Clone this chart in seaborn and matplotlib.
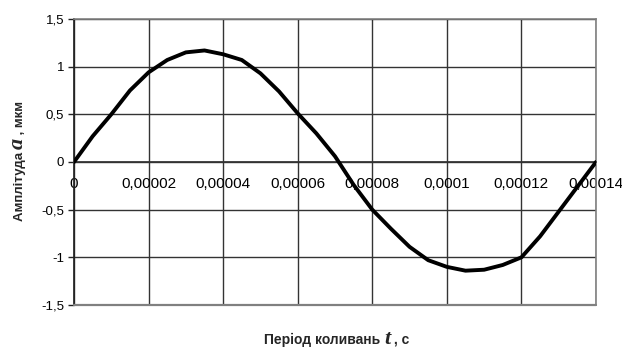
import matplotlib
matplotlib.use("Agg")
import matplotlib.pyplot as plt
import seaborn as sns
import pandas as pd

# Sampled oscillation: time (s) and amplitude (um)
time_s = [0, 0.000005, 0.00001, 0.000015, 0.00002, 0.000025, 0.00003, 0.000035,
          0.00004, 0.000045, 0.00005, 0.000055, 0.00006, 0.000065, 0.00007,
          0.000075, 0.00008, 0.000085, 0.00009, 0.000095, 0.0001, 0.000105,
          0.00011, 0.000115, 0.00012, 0.000125, 0.00013, 0.000135, 0.00014]
amplitude_um = [0, 0.27, 0.50, 0.75, 0.94, 1.07, 1.15, 1.17,
                1.13, 1.07, 0.93, 0.74, 0.51, 0.30, 0.06,
                -0.24, -0.50, -0.70, -0.89, -1.03, -1.10, -1.14,
                -1.13, -1.08, -1.00, -0.78, -0.52, -0.26, 0]

x_ticks = [0, 0.00002, 0.00004, 0.00006, 0.00008, 0.0001, 0.00012, 0.00014]
x_tick_labels = ["0", "0,00002", "0,00004", "0,00006", "0,00008", "0,0001", "0,00012", "0,00014"]
y_ticks = [-1.5, -1, -0.5, 0, 0.5, 1, 1.5]
y_tick_labels = ["-1,5", "-1", "-0,5", "0", "0,5", "1", "1,5"]

df = pd.DataFrame({"t": time_s, "a": amplitude_um})

sns.set_theme(style="white")
plt.rcParams["font.family"] = ["Liberation Sans", "DejaVu Sans"]

fig = plt.figure(figsize=(6.22, 3.49), dpi=100)
ax = fig.add_axes([74 / 622, 1 - 305 / 349, (596 - 74) / 622, (305 - 19) / 349])

sns.lineplot(data=df, x="t", y="a", ax=ax, color="black", linewidth=2.8,
             solid_joinstyle="round", solid_capstyle="round", zorder=5)

ax.set_xlim(0, 0.00014)
ax.set_ylim(-1.5, 1.5)
ax.set_xticks(x_ticks)
ax.set_xticklabels(x_tick_labels, fontsize=9)
ax.set_yticks(y_ticks)
ax.set_yticklabels(y_tick_labels, fontsize=9.5)

ax.grid(True, color="#333333", linewidth=1.0)
ax.set_axisbelow(True)

# category axis crosses at zero, like a spreadsheet chart
ax.spines["bottom"].set_position(("data", 0))
ax.spines["bottom"].set_color("#333333")
ax.spines["left"].set_color("#222222")
for s in ("top", "right"):
    ax.spines[s].set_color("#808080")
    ax.spines[s].set_linewidth(1.2)
ax.axhline(-1.5, color="#808080", linewidth=1.6, clip_on=False, zorder=4)

ax.tick_params(axis="y", direction="out", length=4, width=1, color="#222222", pad=3,
               left=True, labelcolor="black")
ax.tick_params(axis="x", direction="out", length=0, pad=11, bottom=True, labelcolor="black")
ax.set_xlabel("")
ax.set_ylabel("")

# Axis titles assembled from pieces so the variable letter can be set in a serif italic
fig.canvas.draw()
renderer = fig.canvas.get_renderer()

x_sans = dict(family="Liberation Sans", weight="bold", size=10)
y_sans = dict(family="Liberation Sans", weight="bold", size=9.5)
serif_var = dict(family="Liberation Serif", weight="bold", style="italic", size=16)


def piece_widths(parts):
    widths = []
    for txt, props in parts:
        t = fig.text(0, 0, txt, **props)
        bb = t.get_window_extent(renderer)
        widths.append(bb.width)
        t.remove()
    return widths


x_parts = [("Період коливань ", x_sans), ("t", serif_var), (" , с", x_sans)]
wx = piece_widths(x_parts)
start = 337 - sum(wx) / 2
base_y = 349 - 344
pos = start
for (txt, props), w in zip(x_parts, wx):
    fig.text(pos / 622, base_y / 349, txt, ha="left", va="baseline", **props)
    pos += w

y_parts = [("Амплітуда ", y_sans), ("a", serif_var), (" , мкм", y_sans)]
wy = piece_widths(y_parts)
start = (349 - 161) - sum(wy) / 2
base_x = 23
pos = start
for (txt, props), w in zip(y_parts, wy):
    fig.text(base_x / 622, pos / 349, txt, ha="left", va="baseline", rotation=90,
             rotation_mode="anchor", **props)
    pos += w

fig.savefig("out.png", dpi=100)
